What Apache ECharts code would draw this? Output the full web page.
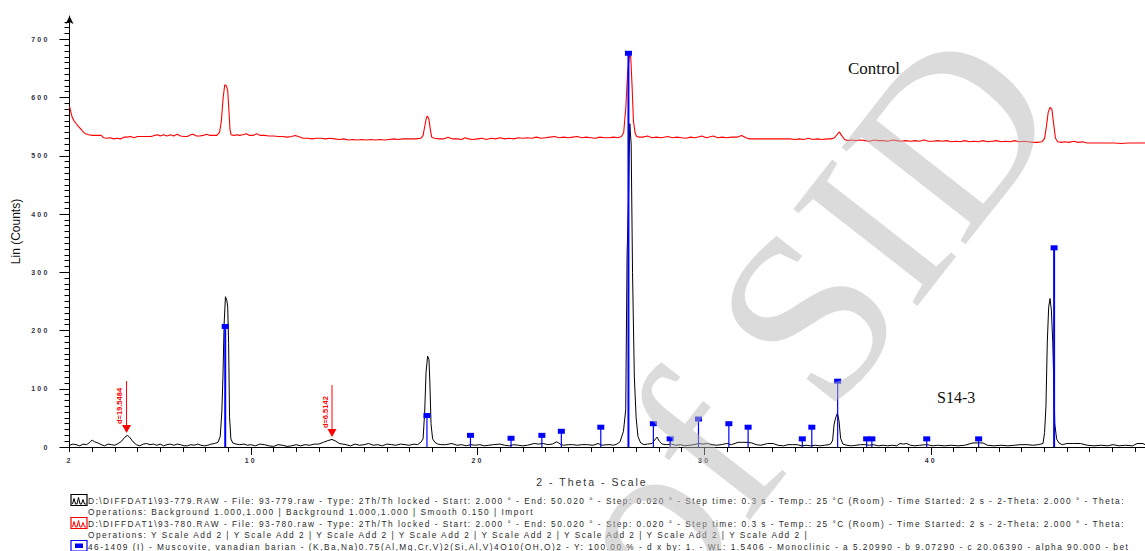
<!DOCTYPE html>
<html>
<head>
<meta charset="utf-8">
<script src="https://cdn.jsdelivr.net/npm/echarts@6/dist/echarts.min.js"></script>
<style>
  html, body { margin: 0; padding: 0; background: #fff; }
  #chart { width: 1145px; height: 551px; }
  /* EVA-style wide letter spacing for the small instrument texts */
  #chart text[style*=" 7px"], #chart text[style*=":7px"] { letter-spacing: 2.2px; }
  #chart text[style*=" 8.3px"], #chart text[style*=":8.3px"] { letter-spacing: 1.5px; }
  #chart text[style*=" 10.5px"], #chart text[style*=":10.5px"] { letter-spacing: 2px; }
</style>
</head>
<body>
<div id="chart"></div>
<script>
// ---- Axis ticks and labels ----
const xLabelValues = [2, 10, 20, 30, 40];
const yLabelValues = [0, 100, 200, 300, 400, 500, 600, 700];

// ---- Measured patterns: [2-Theta (deg), Lin (Counts)] ----
const s14_3 = [
  [2.0,3],[2.15,5],[2.3,4],[2.45,2],[2.6,5],[2.75,4],[2.9,8],[3.0,12],[3.1,9],[3.25,7],[3.4,4],[3.55,2],
  [3.7,5],[3.85,4],[4.0,3],[4.15,6],[4.3,10],[4.42,16],[4.55,20],[4.65,17],[4.8,9],[4.95,4],[5.1,2],
  [5.25,5],[5.4,6],[5.55,4],[5.7,5],[5.85,3],[6.0,5],[6.15,2],[6.3,4],[6.45,5],[6.6,3],[6.75,5],[6.9,4],
  [7.05,2],[7.2,2],[7.35,4],[7.5,3],[7.65,5],[7.8,3],[7.95,2],[8.1,3],[8.25,5],[8.4,6],[8.55,8],[8.65,18],
  [8.72,60],[8.77,120],[8.82,210],[8.88,258],[8.94,252],[8.98,240],[9.02,178],[9.06,52],[9.12,14],
  [9.2,7],[9.35,5],[9.5,4],[9.7,5],[9.85,3],[10.0,4],[10.2,2],[10.4,5],[10.6,4],[10.8,2],[11.0,1],
  [11.2,4],[11.4,3],[11.6,1],[11.8,2],[12.0,4],[12.2,2],[12.4,4],[12.6,3],[12.8,5],[13.0,5],[13.2,8],
  [13.4,11],[13.58,13],[13.75,10],[13.9,6],[14.05,5],[14.2,4],[14.4,2],[14.6,5],[14.8,3],[15.0,4],
  [15.2,6],[15.4,3],[15.6,4],[15.8,2],[16.0,5],[16.2,4],[16.4,3],[16.6,5],[16.8,4],[17.0,3],[17.2,5],
  [17.35,4],[17.5,8],[17.6,14],[17.67,60],[17.73,128],[17.8,156],[17.86,150],[17.9,110],[17.95,40],
  [18.02,14],[18.12,8],[18.25,5],[18.4,4],[18.6,4],[18.87,6],[19.1,3],[19.3,4],[19.5,2],[19.7,4],
  [19.9,3],[20.1,4],[20.3,2],[20.5,3],[20.7,4],[21.0,5],[21.2,3],[21.4,2],[21.6,4],[21.8,3],[22.0,2],
  [22.2,3],[22.5,6],[22.7,5],[22.9,6],[23.1,4],[23.3,5],[23.5,9],[23.65,5],[23.8,3],[24.0,4],[24.2,4],
  [24.4,3],[24.6,4],[24.85,4],[25.1,3],[25.32,6],[25.5,3],[25.7,4],[25.85,4],[26.0,3],[26.15,5],
  [26.29,9],[26.44,27],[26.54,64],[26.6,330],[26.66,420],[26.72,555],[26.78,520],[26.84,300],
  [26.92,120],[27.0,50],[27.08,18],[27.2,7],[27.35,4],[27.5,5],[27.7,6],[27.82,12],[27.92,17],
  [28.02,10],[28.15,5],[28.35,4],[28.55,5],[28.75,3],[28.95,4],[29.15,2],[29.35,3],[29.55,4],
  [29.75,6],[29.95,5],[30.15,6],[30.35,4],[30.55,3],[30.75,4],[31.0,6],[31.2,4],[31.5,8],[31.7,8],
  [31.9,8],[32.1,7],[32.3,4],[32.5,3],[32.8,6],[33.05,6],[33.25,3],[33.5,2],[33.7,4],[33.9,4],
  [34.1,4],[34.3,2],[34.5,3],[34.7,2],[34.9,3],[35.1,2],[35.3,3],[35.5,4],[35.6,6],[35.67,12],
  [35.73,38],[35.8,50],[35.88,58],[35.95,45],[36.02,15],[36.12,5],[36.3,3],[36.5,2],[36.7,3],
  [36.9,4],[37.1,4],[37.3,3],[37.45,4],[37.7,2],[37.9,3],[38.1,2],[38.3,3],[38.5,2],[38.64,6],
  [38.8,5],[38.94,6],[39.1,3],[39.3,2],[39.5,3],[39.82,4],[40.1,2],[40.3,3],[40.6,2],[40.9,3],
  [41.2,2],[41.5,3],[41.86,7],[42.1,7],[42.3,7],[42.5,3],[42.8,2],[43.1,3],[43.4,2],[43.7,3],
  [43.94,4],[44.24,4],[44.5,3],[44.75,4],[44.95,6],[45.02,25],[45.08,70],[45.14,180],[45.2,240],
  [45.26,255],[45.32,235],[45.38,180],[45.42,120],[45.47,40],[45.55,14],[45.65,7],[45.8,4],
  [46.0,6],[46.3,6],[46.6,6],[46.9,3],[47.2,2],[47.5,3],[47.8,2],[48.04,4],[48.3,2],[48.6,3],
  [48.9,2],[49.1,6],[49.36,6],[49.45,4]
];

const control = [
  [2.0,585],[2.06,575],[2.12,566],[2.2,560],[2.3,555],[2.4,550],[2.5,546],[2.6,541],[2.7,538],
  [2.85,536],[3.0,535],[3.2,535],[3.4,535],[3.5,531],[3.65,530],[3.8,531],[3.95,529],[4.1,530],
  [4.25,529],[4.4,532],[4.55,532],[4.7,533],[4.85,531],[5.0,533],[5.2,533],[5.4,533],[5.6,533],
  [5.75,535],[5.9,536],[6.0,534],[6.15,536],[6.3,534],[6.45,536],[6.6,534],[6.75,537],[6.9,534],
  [7.05,533],[7.2,533],[7.35,536],[7.45,537],[7.6,534],[7.75,534],[7.9,535],[8.05,537],[8.2,535],
  [8.35,535],[8.5,535],[8.62,540],[8.7,560],[8.78,600],[8.85,622],[8.92,620],[8.98,612],[9.03,580],
  [9.08,545],[9.13,536],[9.25,535],[9.4,536],[9.5,535],[9.65,536],[9.8,538],[9.95,535],[10.1,535],
  [10.27,538],[10.4,535],[10.6,535],[10.8,534],[11.0,534],[11.2,533],[11.4,533],[11.6,532],
  [11.8,533],[11.95,535],[12.1,533],[12.3,530],[12.5,530],[12.7,529],[12.9,530],[13.1,530],
  [13.3,529],[13.5,530],[13.7,529],[13.9,528],[14.1,529],[14.3,527],[14.5,528],[14.7,527],
  [14.9,528],[15.1,527],[15.3,528],[15.5,527],[15.7,528],[15.9,527],[16.1,528],[16.3,529],
  [16.5,528],[16.7,529],[16.9,529],[17.1,529],[17.3,529],[17.5,530],[17.6,535],[17.68,552],
  [17.75,566],[17.8,568],[17.86,562],[17.92,545],[17.98,532],[18.1,530],[18.3,529],[18.5,529],
  [18.7,532],[18.9,529],[19.1,529],[19.3,528],[19.45,531],[19.6,529],[19.8,528],[20.0,529],
  [20.2,530],[20.4,528],[20.6,530],[20.8,529],[21.0,531],[21.2,529],[21.4,530],[21.6,529],
  [21.8,531],[22.0,530],[22.2,531],[22.4,530],[22.6,532],[22.8,530],[23.0,531],[23.2,532],
  [23.4,533],[23.6,531],[23.8,532],[24.0,531],[24.2,532],[24.4,533],[24.6,531],[24.8,532],
  [25.0,531],[25.2,530],[25.4,532],[25.6,531],[25.8,531],[26.0,532],[26.2,531],[26.35,533],
  [26.45,540],[26.55,586],[26.62,640],[26.7,672],[26.76,670],[26.82,620],[26.88,560],[26.95,540],
  [27.02,533],[27.15,532],[27.3,532],[27.5,534],[27.7,531],[27.9,532],[28.1,531],[28.4,533],
  [28.6,531],[28.8,532],[29.0,531],[29.2,530],[29.4,532],[29.6,531],[29.9,534],[30.1,531],
  [30.4,534],[30.6,531],[30.8,532],[31.0,531],[31.2,532],[31.45,532],[31.65,535],[31.85,531],
  [32.0,529],[32.3,529],[32.6,529],[32.9,529],[33.2,529],[33.5,529],[33.8,529],[34.0,528],
  [34.2,529],[34.4,528],[34.6,530],[34.8,528],[35.0,529],[35.2,528],[35.4,529],[35.6,529],
  [35.75,531],[35.88,537],[35.97,541],[36.06,535],[36.2,528],[36.35,526],[36.5,527],[36.7,526],
  [36.9,527],[37.1,526],[37.3,525],[37.5,527],[37.7,526],[37.9,526],[38.1,525],[38.3,527],
  [38.5,526],[38.7,525],[38.9,526],[39.1,525],[39.3,526],[39.5,525],[39.7,527],[39.9,525],
  [40.1,525],[40.3,526],[40.5,525],[40.7,526],[40.9,524],[41.1,525],[41.3,524],[41.5,526],
  [41.7,524],[41.9,525],[42.1,524],[42.3,526],[42.5,524],[42.7,525],[42.9,526],[43.1,524],
  [43.3,525],[43.5,524],[43.7,526],[43.9,524],[44.1,525],[44.3,524],[44.5,523],[44.7,523],
  [44.9,524],[45.02,530],[45.1,550],[45.18,575],[45.26,583],[45.34,580],[45.42,555],[45.5,530],
  [45.6,524],[45.75,523],[45.9,524],[46.1,523],[46.3,525],[46.5,523],[46.7,524],[46.9,522],
  [47.2,522],[47.5,522],[47.8,522],[48.1,522],[48.4,521],[48.7,522],[49.0,522],[49.3,522],[49.45,522]
];

// ---- Reference pattern 46-1409 Muscovite, vanadian barian (stick positions / intensities) ----
const stickTheta  = [8.87, 17.77, 19.69, 21.48, 22.84, 23.70, 25.44, 26.66, 27.76, 28.50, 29.75,
                     31.09, 31.94, 34.33, 34.75, 35.89, 37.17, 37.40, 39.82, 42.11, 45.44];
const stickCounts = [207, 54, 20, 15, 20, 27, 34, 676, 40, 14, 48,
                     40, 34, 14, 34, 113, 14, 14, 14, 14, 342];

// ---- d-spacing markers (Angstrom) and the counts where each arrow points ----
const wavelength = 1.5406;
const dSpacings = [19.5484, 6.5142];
const dArrowTips = [24, 17];

// ---- Texts ----
const legendLines = [
  'D:\\DIFFDAT1\\93-779.RAW - File: 93-779.raw - Type: 2Th/Th locked - Start: 2.000 ° - End: 50.020 ° - Step: 0.020 ° - Step time: 0.3 s - Temp.: 25 °C (Room) - Time Started: 2 s - 2-Theta: 2.000 ° - Theta:',
  'Operations: Background 1.000,1.000 | Background 1.000,1.000 | Smooth 0.150 | Import',
  'D:\\DIFFDAT1\\93-780.RAW - File: 93-780.raw - Type: 2Th/Th locked - Start: 2.000 ° - End: 50.020 ° - Step: 0.020 ° - Step time: 0.3 s - Temp.: 25 °C (Room) - Time Started: 2 s - 2-Theta: 2.000 ° - Theta:',
  'Operations: Y Scale Add 2 | Y Scale Add 2 | Y Scale Add 2 | Y Scale Add 2 | Y Scale Add 2 | Y Scale Add 2 | Y Scale Add 2 | Y Scale Add 2 |',
  '46-1409 (I) - Muscovite, vanadian barian - (K,Ba,Na)0.75(Al,Mg,Cr,V)2(Si,Al,V)4O10(OH,O)2 - Y: 100.00 % - d x by: 1. - WL: 1.5406 - Monoclinic - a 5.20990 - b 9.07290 - c 20.06390 - alpha 90.000 - bet'
];

// Bragg's law: position of a d-spacing on the 2-Theta scale
const twoTheta = d => 2 * Math.asin(wavelength / (2 * d)) * 180 / Math.PI;

const X_MIN = 2, X_MAX = 49.45, Y_MAX = 740;
const xMinorTicks = [];
for (let t = 2; t <= 49; t++) xMinorTicks.push(t);
const xMajorTicks = [10, 20, 30, 40];
const yMinorTicks = [];
for (let v = 0; v <= 730; v += 10) yMinorTicks.push(v);

const SANS = 'Liberation Sans';
const SERIF = 'Liberation Serif';

const chart = echarts.init(document.getElementById('chart'), null,
  { renderer: 'svg', width: 1145, height: 551 });

// small legend icons: framed mini traces
function traceIcon(y, color) {
  return {
    type: 'group', x: 71, y: y - 6,
    children: [
      { type: 'rect', shape: { x: 0, y: 0, width: 16, height: 11 },
        style: { fill: '#fff', stroke: color, lineWidth: 1.2 } },
      { type: 'polyline', shape: { points: [[1.5,9.5],[3,4],[4.5,9.5],[6,9.5],[7.5,3],[9,9.5],[10.5,9.5],[12,5],[13.5,9.5],[15,9.5]] },
        style: { stroke: color, lineWidth: 1, fill: null } }
    ]
  };
}

const LEGEND_TOP = 500.5, LEGEND_STEP = 11.5;
const graphics = [
  traceIcon(LEGEND_TOP, '#000'),
  traceIcon(LEGEND_TOP + 2 * LEGEND_STEP, '#ff0000'),
  { type: 'group', x: 71, y: LEGEND_TOP + 4 * LEGEND_STEP - 6, children: [
      { type: 'rect', shape: { x: 0, y: 0, width: 16, height: 10.5 }, style: { fill: '#fff', stroke: '#0000ff', lineWidth: 1.2 } },
      { type: 'rect', shape: { x: 4, y: 3, width: 8, height: 4.5 }, style: { fill: '#0000ff' } }
  ]},
  { type: 'text', x: 592, y: 482, style: { text: '2 - Theta - Scale', font: `10.5px ${SANS}`, fill: '#333', align: 'center', verticalAlign: 'middle' } },
  { type: 'text', x: 848, y: 68, style: { text: 'Control', font: `17px ${SERIF}`, fill: '#111', align: 'left', verticalAlign: 'middle' } },
  { type: 'text', x: 937, y: 397, style: { text: 'S14-3', font: `16px ${SERIF}`, fill: '#111', align: 'left', verticalAlign: 'middle' } },
  // faint stamp laid over the plot
  { type: 'text', x: 805, y: 318, rotation: 52 * Math.PI / 180, z: 100,
    style: { text: 'of SID', font: `240px ${SERIF}`, fill: 'rgba(183,183,183,0.5)', align: 'center', verticalAlign: 'middle' } }
];
legendLines.forEach((line, i) => {
  graphics.push({ type: 'text', x: 88, y: LEGEND_TOP + i * LEGEND_STEP,
    style: { text: line, font: `8.3px ${SANS}`, fill: '#2a2a2a', align: 'left', verticalAlign: 'middle' } });
});

const option = {
  animation: false,
  backgroundColor: '#fff',
  grid: { left: 69.5, right: 0, top: 16, bottom: 104, containLabel: false },
  xAxis: [
    { type: 'value', min: X_MIN, max: X_MAX, position: 'bottom',
      axisLine: { show: true, onZero: false, lineStyle: { color: '#000', width: 1 } },
      axisTick: { show: true, inside: false, length: 5, customValues: xMinorTicks, lineStyle: { color: '#000' } },
      axisLabel: { show: true, customValues: xLabelValues, margin: 10, color: '#333344',
                   fontFamily: SANS, fontSize: 7, fontWeight: 'bold' },
      splitLine: { show: false } },
    { type: 'value', min: X_MIN, max: X_MAX, position: 'bottom', offset: 0,
      axisLine: { show: false },
      axisTick: { show: true, inside: false, length: 8, customValues: xMajorTicks, lineStyle: { color: '#000' } },
      axisLabel: { show: false }, splitLine: { show: false } }
  ],
  yAxis: [
    { type: 'value', min: 0, max: Y_MAX, position: 'left',
      name: 'Lin (Counts)', nameLocation: 'middle', nameGap: 48, nameRotate: 90,
      nameTextStyle: { fontFamily: 'Arial', fontSize: 12, color: '#111' },
      axisLine: { show: true, onZero: false, symbol: ['none', 'arrow'], symbolSize: [6, 8],
                  lineStyle: { color: '#000', width: 1 } },
      axisTick: { show: true, inside: false, length: 10, customValues: yLabelValues, lineStyle: { color: '#000' } },
      axisLabel: { show: true, customValues: yLabelValues, margin: 20, color: '#333344',
                   fontFamily: SANS, fontSize: 7, fontWeight: 'bold' },
      splitLine: { show: false } },
    { type: 'value', min: 0, max: Y_MAX, position: 'left', offset: 0,
      axisLine: { show: false },
      axisTick: { show: true, inside: false, length: 5, customValues: yMinorTicks, lineStyle: { color: '#000' } },
      axisLabel: { show: false }, splitLine: { show: false } }
  ],
  graphic: graphics,
  series: [
    { name: 'S14-3', type: 'line', xAxisIndex: 0, yAxisIndex: 0, data: s14_3,
      showSymbol: false, symbol: 'none', lineStyle: { color: '#000', width: 1 }, z: 3 },
    { name: 'Control', type: 'line', xAxisIndex: 0, yAxisIndex: 0, data: control,
      showSymbol: false, symbol: 'none', lineStyle: { color: '#ff0000', width: 1.1 }, z: 4 },
    { name: '46-1409', type: 'custom', xAxisIndex: 0, yAxisIndex: 0, z: 5,
      data: stickTheta.map((t, i) => [t, stickCounts[i]]),
      renderItem(params, api) {
        const top = api.coord([api.value(0), api.value(1)]);
        const base = api.coord([api.value(0), 0]);
        const w = api.value(1) > 150 ? 2 : 1.2;
        return { type: 'group', children: [
          { type: 'line', shape: { x1: top[0], y1: base[1], x2: top[0], y2: top[1] },
            style: { stroke: '#0000ff', lineWidth: w } },
          { type: 'rect', shape: { x: top[0] - 3.5, y: top[1] - 2.5, width: 7, height: 5 },
            style: { fill: '#0000ff' } }
        ]};
      } },
    { name: 'd markers', type: 'custom', xAxisIndex: 0, yAxisIndex: 0, z: 6,
      data: dSpacings.map((d, i) => [twoTheta(d), dArrowTips[i], d]),
      renderItem(params, api) {
        const tip = api.coord([api.value(0), api.value(1)]);
        const label = 'd=' + api.value(2).toFixed(4);
        return { type: 'group', children: [
          { type: 'line', shape: { x1: tip[0], y1: tip[1] - 52, x2: tip[0], y2: tip[1] - 7 },
            style: { stroke: '#ff0000', lineWidth: 1 } },
          { type: 'polygon', shape: { points: [[tip[0] - 4.5, tip[1] - 8], [tip[0] + 4.5, tip[1] - 8], [tip[0], tip[1]]] },
            style: { fill: '#ff0000' } },
          { type: 'text', x: tip[0] - 7, y: tip[1] - 9, rotation: Math.PI / 2,
            style: { text: label, fill: '#ff0000', font: `bold 7.5px ${SANS}`, align: 'left', verticalAlign: 'middle' } }
        ]};
      } }
  ]
};
chart.setOption(option);
</script>
</body>
</html>
